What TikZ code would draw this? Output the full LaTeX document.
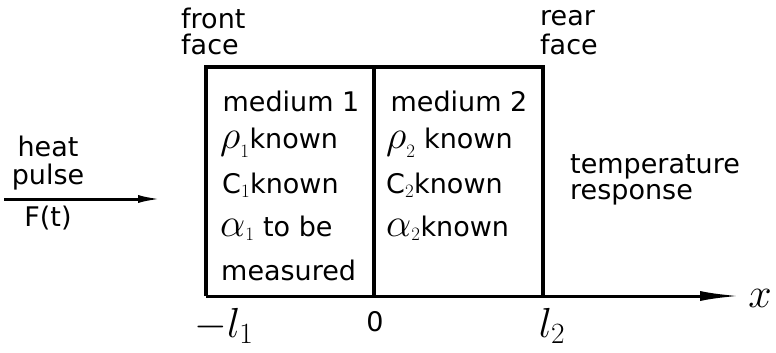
\RequirePackage{fix-cm}
\documentclass[tikz,border=0pt]{standalone}
\usepackage{fontspec}
\setmainfont{DejaVu Sans}
\usetikzlibrary{arrows.meta}
\newcommand{\bigsym}[1]{\mbox{\fontsize{40}{44}\selectfont$#1$}}
\tikzset{
  lbl/.style={font=\fontsize{27}{30}\selectfont, inner sep=0pt},
  sym/.style={font=\fontsize{42}{46}\selectfont, inner sep=0pt},
  wall/.style={line width=3.2pt},
  push/.style={line width=3pt, -{Latex[length=40pt,width=10pt]}}
}
\begin{document}
\begin{tikzpicture}[x=1pt,y=-1pt]
      \useasboundingbox (0,0) rectangle (776,353);

      % the two media
      \coordinate (fl) at (206,296);
      \coordinate (fu) at (206,67);
      \coordinate (ml) at (374,296);
      \coordinate (mu) at (374,67);
      \coordinate (rl) at (543,296);
      \coordinate (ru) at (543,67);
      \draw [wall] (fl) -- (fu) -- (ru) -- (rl);
      \draw [wall] (mu) -- (ml);

      \node [lbl,anchor=west] (front) at (181,18) {front};
      \node [lbl,anchor=west] (fface) at (181,44) {face};
      \node [lbl,anchor=west] (rear) at (540,18) {rear};
      \node [lbl,anchor=west] (rface) at (540,44) {face};

      \node [lbl] (med1) at (291,101) {medium 1};
      \node [lbl,anchor=west] (rho1) at (220,143) {$\bigsym{\rho}_{1}$known};
      \node [lbl,anchor=west] (c1) at (222,185) {C$_{1}$known};
      \node [lbl,anchor=west] (a1) at (220,228) {$\bigsym{\alpha}_{1}$ to be};
      \node [lbl,anchor=west] (meas) at (221,270) {measured};

      \node [lbl] (med2) at (459,101) {medium 2};
      \node [lbl,anchor=west] (rho2) at (386,143) {$\bigsym{\rho}_{2}$ known};
      \node [lbl,anchor=west] (c2) at (386,185) {C$_{2}$known};
      \node [lbl,anchor=west] (a2) at (386,228) {$\bigsym{\alpha}_{2}$known};

      % heat pulse on the front face
      \node [lbl] (heat) at (48,146) {heat};
      \node [lbl] (pulse) at (48,177) {pulse};
      \coordinate (hs) at (4,199);
      \coordinate (he) at (162,199);
      \draw [push,-{Latex[length=24pt,width=8pt]}] (hs) -- (he);
      \node [lbl] (ft) at (48,218) {F(t)};

      \node [lbl,anchor=west] (temp) at (570,167) {temperature};
      \node [lbl,anchor=west] (resp) at (570,195) {response};

      % axis
      \coordinate (xend) at (740,296);
      \draw [push] (fl) -- (xend);
      \node [sym] (xl) at (760,298) {$x$};
      \node [sym] (ml1) at (224,326) {$-l_{1}$};
      \node [lbl] (zero) at (375,322) {0};
      \node [sym] (l2) at (552,326) {$l_{2}$};

    \end{tikzpicture}
\end{document}
